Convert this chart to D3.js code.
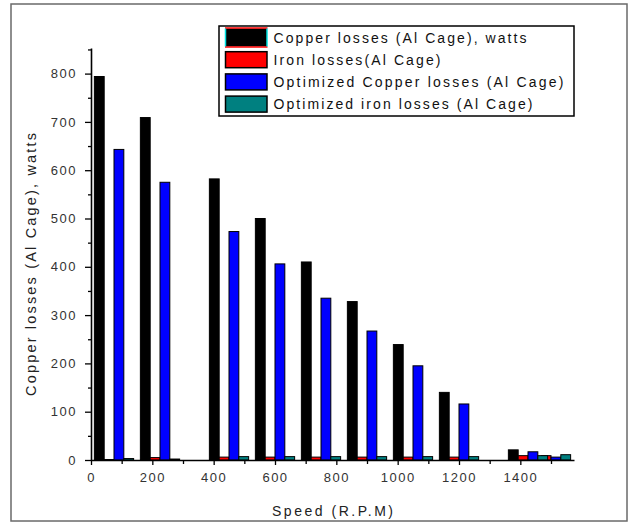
<!DOCTYPE html>
<html>
<head>
<meta charset="utf-8">
<script src="https://cdn.jsdelivr.net/npm/d3@7"></script>
<style>
  html, body { margin: 0; padding: 0; background: #fff; }
  svg { display: block; }
  text { font-family: Arial, "Liberation Sans", sans-serif; }
</style>
</head>
<body>
<svg id="chart" width="633" height="523"></svg>
<script>
// ---- data ----
const speeds = [75, 225, 450, 600, 750, 900, 1050, 1200, 1425, 1500];
const copperLosses = [794, 709, 582, 500, 410, 328, 239, 140, 21, 0];
const ironLosses = [1, 5, 6, 6, 6, 6, 6, 6, 9, 9];
const optCopperLosses = [643, 575, 473, 406, 335, 267, 195, 116, 17, 6];
const optIronLosses = [3, 2, 7, 7, 7, 7, 7, 7, 9, 11];
const seriesNames = [
  "Copper losses (Al Cage), watts",
  "Iron losses(Al Cage)",
  "Optimized Copper losses (Al Cage)",
  "Optimized iron losses (Al Cage)"
];
const xTickValues = [0, 200, 400, 600, 800, 1000, 1200, 1400];
const xMinorTicks = [100, 300, 500, 700, 900, 1100, 1300, 1500];
const yTickValues = [0, 100, 200, 300, 400, 500, 600, 700, 800];
const yMinorTicks = [50, 150, 250, 350, 450, 550, 650, 750, 850];
const xTitle = "Speed (R.P.M)";
const yTitle = "Copper losses (Al Cage), watts";

// ---- styles ----
const colors = ["#000000", "#ff0000", "#0000ff", "#008080"];
const barW = 32; // in data units
const legendTextLen = [253, 167, 290, 259];

const svg = d3.select("#chart");
svg.append("rect").attr("x", 0).attr("y", 0).attr("width", 633).attr("height", 523).attr("fill", "#fff");
svg.append("rect").attr("x", 11).attr("y", 4).attr("width", 616).attr("height", 517)
  .attr("fill", "none").attr("stroke", "#6a6a6a").attr("stroke-width", 1.5);

const x = d3.scaleLinear().domain([0, 1575]).range([91, 574]);
const y = d3.scaleLinear().domain([0, 853]).range([460, 48]);

const series = [copperLosses, ironLosses, optCopperLosses, optIronLosses];

// bars, drawn series by series
series.forEach((vals, si) => {
  svg.append("g").selectAll("rect").data(vals).join("rect")
    .attr("x", (d, i) => x(speeds[i] + (si - 2) * barW))
    .attr("width", (d, i) => x(speeds[i] + (si - 1) * barW) - x(speeds[i] + (si - 2) * barW))
    .attr("y", d => y(d))
    .attr("height", d => Math.max(0, y(0) - y(d)))
    .attr("fill", colors[si])
    .attr("stroke", "#000")
    .attr("stroke-width", 1);
});

// x axis
const xAxis = svg.append("g").attr("transform", `translate(0,${y(0)})`)
  .call(d3.axisBottom(x).tickValues(xTickValues).tickSize(5).tickSizeOuter(0).tickPadding(8).tickFormat(d3.format("d")));
xAxis.select(".domain").attr("stroke-width", 1.6);
xAxis.selectAll(".tick line").attr("stroke-width", 1.3);
xAxis.selectAll("text").attr("font-size", 13).attr("fill", "#333").attr("letter-spacing", "1.5px");
const xMinor = svg.append("g").attr("transform", `translate(0,${y(0)})`)
  .call(d3.axisBottom(x).tickValues(xMinorTicks).tickSize(4).tickSizeOuter(0).tickFormat(""));
xMinor.select(".domain").remove();
xMinor.selectAll(".tick line").attr("stroke-width", 1.3);

// y axis
const yAxis = svg.append("g").attr("transform", `translate(${x(0)},0)`)
  .call(d3.axisLeft(y).tickValues(yTickValues).tickSize(6).tickSizeOuter(0).tickPadding(8).tickFormat(d3.format("d")));
yAxis.select(".domain").attr("stroke-width", 1.6);
yAxis.selectAll(".tick line").attr("stroke-width", 1.3);
yAxis.selectAll("text").attr("font-size", 13).attr("fill", "#333").attr("letter-spacing", "1.5px");
const yMinor = svg.append("g").attr("transform", `translate(${x(0)},0)`)
  .call(d3.axisLeft(y).tickValues(yMinorTicks).tickSize(3).tickSizeOuter(0).tickFormat(""));
yMinor.select(".domain").remove();
yMinor.selectAll(".tick line").attr("stroke-width", 1.3);

// axis titles
svg.append("text").attr("x", 332.5).attr("y", 515.5).attr("text-anchor", "middle")
  .attr("font-size", 14).attr("fill", "#222")
  .attr("textLength", 121).attr("lengthAdjust", "spacing").text(xTitle);
svg.append("text").attr("transform", "translate(36,264.5) rotate(-90)").attr("text-anchor", "middle")
  .attr("font-size", 14.5).attr("fill", "#222")
  .attr("textLength", 263).attr("lengthAdjust", "spacing").text(yTitle);

// legend
const lg = svg.append("g");
lg.append("rect").attr("x", 219).attr("y", 26).attr("width", 355).attr("height", 90)
  .attr("fill", "#fff").attr("stroke", "#000").attr("stroke-width", 1.5);
seriesNames.forEach((name, i) => {
  const cy = 37.5 + i * 22.2;
  if (i === 0) {
    lg.append("rect").attr("x", 225.5).attr("y", cy - 9).attr("width", 41.5).attr("height", 18)
      .attr("fill", "#000");
    lg.append("line").attr("x1", 225).attr("x2", 267.5).attr("y1", cy - 9.5).attr("y2", cy - 9.5)
      .attr("stroke", "#ff0000").attr("stroke-width", 1.5);
    lg.append("line").attr("x1", 225).attr("x2", 267.5).attr("y1", cy + 9.5).attr("y2", cy + 9.5)
      .attr("stroke", "#ff0000").attr("stroke-width", 1.5);
    lg.append("line").attr("x1", 225.5).attr("x2", 225.5).attr("y1", cy - 9).attr("y2", cy + 9)
      .attr("stroke", "#00e0e0").attr("stroke-width", 1.5);
    lg.append("line").attr("x1", 267).attr("x2", 267).attr("y1", cy - 9).attr("y2", cy + 9)
      .attr("stroke", "#00e0e0").attr("stroke-width", 1.5);
  } else {
    lg.append("rect").attr("x", 225.5).attr("y", cy - 8).attr("width", 41.5).attr("height", 16)
      .attr("fill", colors[i]).attr("stroke", "#000").attr("stroke-width", 1.5);
  }
  lg.append("text").attr("x", 273.5).attr("y", cy + 5).attr("font-size", 14).attr("fill", "#111")
    .attr("textLength", legendTextLen[i]).attr("lengthAdjust", "spacing").text(name);
});
</script>
</body>
</html>
